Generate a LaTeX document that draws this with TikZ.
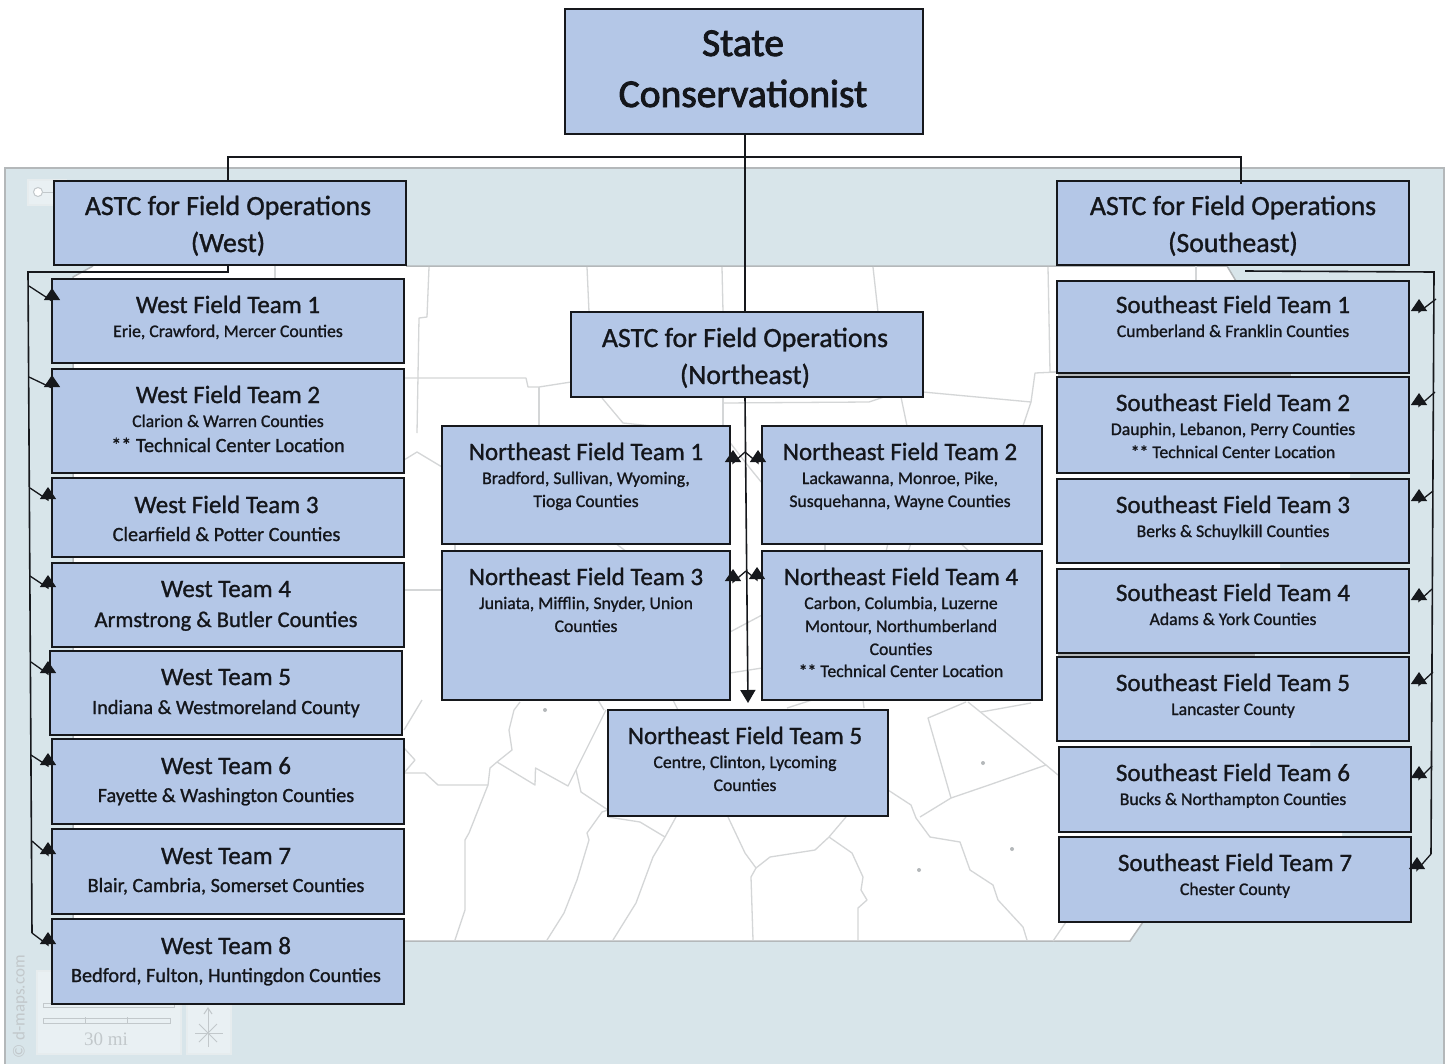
\documentclass[tikz,border=0pt]{standalone}
\usepackage{fontspec}
\setmainfont[FakeBold=1.1]{Carlito}
\newfontfamily\statefont[FakeBold=2.2]{Carlito}
\newfontfamily\plainmap{Carlito}
\newfontfamily\serifmap{Liberation Serif}
\usetikzlibrary{arrows.meta,calc}
\definecolor{boxfill}{HTML}{B4C7E7}
\definecolor{boxline}{HTML}{16181C}
\definecolor{sea}{HTML}{D8E5EA}
\definecolor{county}{HTML}{D4D6D7}
\definecolor{mapline}{HTML}{B4B8BA}
\definecolor{widget}{HTML}{E6ECEE}
\definecolor{widgetink}{HTML}{C2C8CB}
\definecolor{inkc}{HTML}{14161B}
\tikzset{
  teambox/.style={draw=boxline,fill=boxfill,line width=1.6pt,rectangle,inner sep=0pt,outer sep=0pt,anchor=north west,text=inkc},
  conn/.style={draw=boxline,line width=1.6pt,line join=miter},
  arr/.style={draw=boxline,line width=1.3pt,-{Triangle[length=12pt,width=16pt]}},
  arrmain/.style={draw=boxline,line width=1.6pt,-{Triangle[length=13pt,width=15pt]}},
  cty/.style={draw=county,line width=1.3pt,line join=round},
  wid/.style={draw=widget,fill=white,fill opacity=.45,line width=1.5pt},
  widl/.style={draw=widgetink,line width=1pt},
  dotc/.style={fill=mapline,draw=none,circle,minimum size=4pt,inner sep=0pt}
}
\newdimen\lnD
% one line of a box: baseline #1 below the previous one
\newcommand{\Ln}[2]{\nointerlineskip\vskip #1pt\relax\hbox to \hsize{\hfil\kern\lnD\smash{#2}\hfil}}
\newcommand{\Fs}[1]{\fontsize{#1pt}{#1pt}\selectfont}
\newcommand{\Tt}{\Fs{25}}
\newcommand{\Sb}{\Fs{17.7}}
\newcommand{\Wb}{\Fs{20.2}}
% name, x0,y0,x1,y1, text offset (kern), content
\newcommand{\tb}[7]{%
  \pgfmathsetmacro{\bw}{#4-#2}\pgfmathsetmacro{\bh}{#5-#3}%
  \node[teambox] (#1) at (#2,#3) {\vbox to \bh pt{\hsize=\bw pt\lnD=#6pt\relax #7\vss}};}
\newcommand{\armX}[6]{% node, anchor, dx, dy, start x, start y
  \coordinate (#1t) at (#5,#6);
  \draw[arr] (#1t) -- ([shift={(#3,#4+13)}]#1.#2) -- ([shift={(#3,#4)}]#1.#2);}
\begin{document}
\begin{tikzpicture}[x=1pt,y=-1pt]
\useasboundingbox (0,0) rectangle (1448,1063);
\fill[white] (0,0) rectangle (1448,1063);
% ---------- map backdrop
\draw[draw=mapline,line width=2pt,fill=sea] (5,1070) -- (5,168) -- (1444,168) -- (1444,1070);
\fill[white] (93,266) -- (1227,266) -- (1236,281) -- (1291,373) -- (1291,377) -- (1350,473) -- (1350,477) -- (1280,564) -- (1280,568) -- (1255,653) -- (1255,657) -- (1310,742) -- (1310,747) -- (1342,832) -- (1342,837) -- (1143,922) -- (1130,941) -- (73,941) -- (73,277) -- cycle;
\draw[mapline,line width=1.5pt] (406,266) -- (1227,266) -- (1236,281);
\draw[mapline,line width=1.5pt] (404,941) -- (1130,941) -- (1143,922);
\draw[mapline,line width=1.5pt] (93,266) -- (73,277) -- (73,941);
\draw[mapline,line width=2pt] (1058,375) -- (1291,375);
\draw[mapline,line width=2pt] (1058,655) -- (1255,655);
% county lines
\foreach \p in {
 {(400,773)--(425,773)--(438,785)--(488,785)},
 {(455,940)--(465,910)--(465,840)--(469,833)--(488,785)--(490,768)--(497,762)--(512,750)--(509,730)--(514,710)--(520,702)},
 {(497,762)--(535,785)--(535.5,768)--(568,786)--(576,770)--(606,710)},
 {(576,770)--(581,792)--(608,810)},
 {(547,940)--(564,913)--(577,880)--(589,840)--(587,833)--(602,812)--(608,810)},
 {(608,817)--(640,822)--(665,837)},
 {(613,940)--(636,903)--(653,857)--(665,837)--(676,817)},
 {(728,817)--(745,853)--(756,868)--(751,877)--(753,940)},
 {(756,868)--(770,857)--(815,850)--(829,837)--(846,817)},
 {(829,837)--(852,853)--(863,877)--(861,890)--(867,900)--(858,908)--(858,940)},
 {(888,790)--(911,805)--(916,818)--(930,837)--(960,842)--(970,870)--(993,885)--(998,900)--(1023,927)--(1027,940)},
 {(920,817)--(951,798)--(989,785)--(1046,765)--(968,702)},
 {(951,798)--(928,718)--(966,702)},
 {(981,712)--(1031,703)},
 {(1046,765)--(1058,775)},
 {(429,267)--(427,317)--(419,318)--(417,433)},
 {(587,267)--(589,312)},
 {(722,267)--(723,312)},
 {(873,267)--(878,312)},
 {(1048,267)--(1050,372)--(1058,372)},
 {(1196,266)--(1196,281)},
 {(404,378)--(526,378)--(528,387)--(539,387)--(571,382)},
 {(539,387)--(539,426)},
 {(602,398)--(623,423)--(652,426)},
 {(723,398)--(723,426)},
 {(723,403)--(869,402)--(884,397)},
 {(901,397)--(907,426)},
 {(923,392)--(1031,402)--(1023,426)},
 {(1031,402)--(1035,373)--(1057,372)},
 {(404,460)--(417,452)--(442,467)},
 {(728,440)--(749,467)--(762,483)},
 {(404,590)--(442,590)},
 {(730,632)--(762,615)},
 {(730,673)--(762,668)},
 {(455,543)--(455,552)},
 {(615,543)--(627,552)},
 {(825,543)--(825,552)},
 {(888,543)--(886,552)},
 {(911,543)--(908,552)},
 {(960,543)--(970,552)},
 {(404,730)--(422,700)},
 {(404,748)--(415,760)--(404,773)},
 {(673,700)--(678,710)},
 {(598,700)--(604,710)},
 {(863,700)--(864,708)},
 {(787,708)--(812,700)},
 {(275,266)--(275,280)},
 {(1053,941)--(1066,922)}
}{\draw[cty] \p;}
\node[dotc] (d1) at (545,710) {};
\node[dotc] (d2) at (983,763) {};
\node[dotc] (d3) at (919,870) {};
\node[dotc] (d4) at (1012,849) {};
% ---------- map furniture
\draw[wid] (28,180) rectangle (66,205);
\draw[widl,fill=white] (38,192) circle (4.5);
\draw[widl] (43,192) -- (54,192);
\draw[wid] (37,971) rectangle (181,1054);
\draw[wid] (187,971) rectangle (231,1054);
\draw[widl] (43,1003) rectangle (174,1007);
\draw[widl] (43,1018) rectangle (170,1023);
\draw[widl] (85,1017) -- (85,1024);
\draw[widl] (127,1017) -- (127,1024);
\node[text=widgetink,font=\serifmap\fontsize{19pt}{19pt}\selectfont] (miles) at (106,1039) {30 mi};
\node[rotate=90,text=widgetink,font=\plainmap\fontsize{17pt}{17pt}\selectfont] (dmaps) at (20,1007) {© d-maps.com};
\draw[widl] (208,1047) -- (208,1008);
\draw[widl] (195,1033) -- (223,1033);
\draw[widl] (199,1024) -- (217,1042);
\draw[widl] (217,1024) -- (199,1042);
\draw[widl] (204,1014) -- (208,1008) -- (212,1014);
% ---------- boxes
\tb{state}{565}{9}{923}{134}{-2}{\statefont\Fs{39.5}\Ln{47}{State}\Ln{51}{Conservationist}}
\tb{wa}{54}{181}{406}{265}{-4}{\Fs{27.8}\Ln{34}{ASTC for Field Operations}\Ln{37}{(West)}}
\tb{sa}{1057}{181}{1409}{265}{0}{\Fs{27.8}\Ln{34}{ASTC for Field Operations}\Ln{37}{(Southeast)}}
\tb{na}{571}{312}{923}{397}{-4}{\Fs{27.8}\Ln{35}{ASTC for Field Operations}\Ln{37}{(Northeast)}}
%
\tb{w1}{52}{279}{404}{363}{0}{\Ln{34}{\Tt West Field Team 1}\Ln{24}{\Sb Erie, Crawford, Mercer Counties}}
\tb{w2}{52}{369}{404}{473}{0}{\Ln{34}{\Tt West Field Team 2}\Ln{24}{\Sb Clarion \& Warren Counties}\Ln{25}{\Wb ** Technical Center Location}}
\tb{w3}{52}{478}{404}{557}{-3}{\Ln{35}{\Tt West Field Team 3}\Ln{28}{\Wb Clearfield \& Potter Counties}}
\tb{w4}{52}{563}{404}{647}{-4}{\Ln{34}{\Tt West Team 4}\Ln{30}{\Fs{22.5}Armstrong \& Butler Counties}}
\tb{w5}{50}{651}{402}{735}{0}{\Ln{34}{\Tt West Team 5}\Ln{29}{\Wb Indiana \& Westmoreland County}}
\tb{w6}{52}{739}{404}{824}{-4}{\Ln{35}{\Tt West Team 6}\Ln{28}{\Wb Fayette \& Washington Counties}}
\tb{w7}{52}{829}{404}{914}{-4}{\Ln{35}{\Tt West Team 7}\Ln{28}{\Wb Blair, Cambria, Somerset Counties}}
\tb{w8}{52}{919}{404}{1004}{-4}{\Ln{35}{\Tt West Team 8}\Ln{28}{\Wb Bedford, Fulton, Huntingdon Counties}}
%
\tb{s1}{1057}{281}{1409}{373}{0}{\Ln{32}{\Tt Southeast Field Team 1}\Ln{24}{\Sb Cumberland \& Franklin Counties}}
\tb{s2}{1057}{377}{1409}{473}{0}{\Ln{34}{\Tt Southeast Field Team 2}\Ln{24}{\Sb Dauphin, Lebanon, Perry Counties}\Ln{23}{\Sb ** Technical Center Location}}
\tb{s3}{1057}{479}{1409}{563}{0}{\Ln{34}{\Tt Southeast Field Team 3}\Ln{24}{\Sb Berks \& Schuylkill Counties}}
\tb{s4}{1057}{569}{1409}{653}{0}{\Ln{32}{\Tt Southeast Field Team 4}\Ln{24}{\Sb Adams \& York Counties}}
\tb{s5}{1057}{657}{1409}{741}{0}{\Ln{34}{\Tt Southeast Field Team 5}\Ln{24}{\Sb Lancaster County}}
\tb{s6}{1059}{747}{1411}{832}{-4}{\Ln{34}{\Tt Southeast Field Team 6}\Ln{24}{\Sb Bucks \& Northampton Counties}}
\tb{s7}{1059}{837}{1411}{922}{0}{\Ln{34}{\Tt Southeast Field Team 7}\Ln{24}{\Sb Chester County}}
%
\tb{n1}{442}{426}{730}{544}{0}{\Ln{34}{\Tt Northeast Field Team 1}\Ln{24}{\Sb Bradford, Sullivan, Wyoming,}\Ln{23}{\Sb Tioga Counties}}
\tb{n2}{762}{426}{1042}{544}{-4}{\Ln{34}{\Tt Northeast Field Team 2}\Ln{24}{\Sb Lackawanna, Monroe, Pike,}\Ln{23}{\Sb Susquehanna, Wayne Counties}}
\tb{n3}{442}{551}{730}{700}{0}{\Ln{34}{\Tt Northeast Field Team 3}\Ln{24}{\Sb Juniata, Mifflin, Snyder, Union}\Ln{23}{\Sb Counties}}
\tb{n4}{762}{551}{1042}{700}{-2}{\Ln{34}{\Tt Northeast Field Team 4}\Ln{24}{\Sb Carbon, Columbia, Luzerne}\Ln{23}{\Sb Montour, Northumberland}\Ln{23}{\Sb Counties}\Ln{22}{\Sb ** Technical Center Location}}
\tb{n5}{608}{710}{888}{816}{-6}{\Ln{34}{\Tt Northeast Field Team 5}\Ln{24}{\Sb Centre, Clinton, Lycoming}\Ln{23}{\Sb Counties}}
% ---------- connectors
\coordinate (busW) at (228,157);
\coordinate (busE) at (1241,157);
\draw[conn] ([xshift=-2]wa.north) -- (busW) -- (busE) -- ([shift={(8,3)}]sa.north);
\draw[conn] ([xshift=1]state.south) -- ([xshift=-2]na.north);
\draw[arrmain] ([xshift=-2]na.south) -- ([shift={(0,-7)}]n5.north);
% west
\coordinate (wTop) at (28,272);
\coordinate (wEnd) at (32,933);
\draw[conn] ([xshift=-2]wa.south) -- (228,272) -- (wTop) -- (wEnd);
\armX{w1}{north west}{0}{9}{29}{286}
\armX{w2}{north west}{0}{6}{29}{377}
\armX{w3}{north west}{-4}{9}{30}{488}
\armX{w4}{north west}{-4}{12}{30}{576}
\armX{w5}{north west}{-2}{10}{31}{662}
\armX{w6}{north west}{-4}{14}{31}{755}
\armX{w7}{north west}{-4}{13}{32}{841}
\armX{w8}{north west}{-4}{13}{32}{933}
% southeast
\coordinate (sTop) at (1434,272);
\coordinate (sEnd) at (1431,854);
\draw[conn] ([shift={(12,6)}]sa.south) -- (sTop) -- (sEnd);
\armX{s1}{north east}{10}{18}{1436}{299}
\armX{s2}{north east}{10}{16}{1435}{392}
\armX{s3}{north east}{10}{10}{1433}{491}
\armX{s4}{north east}{10}{19}{1432}{589}
\armX{s5}{north east}{10}{15}{1433}{672}
\armX{s6}{north east}{8}{19}{1432}{766}
\armX{s7}{north east}{6}{20}{1431}{854}
% northeast
\coordinate (nA) at (745,452);
\coordinate (nB) at (746,571);
\draw[arr] (nA) -- ([shift={(3,37)}]n1.north east) -- ([shift={(3,24)}]n1.north east);
\draw[arr] (nA) -- ([shift={(-4,37)}]n2.north west) -- ([shift={(-4,24)}]n2.north west);
\draw[arr] (nB) -- ([shift={(3,31)}]n3.north east) -- ([shift={(3,18)}]n3.north east);
\draw[arr] (nB) -- ([shift={(-5,29)}]n4.north west) -- ([shift={(-5,16)}]n4.north west);
\end{tikzpicture}
\end{document}
